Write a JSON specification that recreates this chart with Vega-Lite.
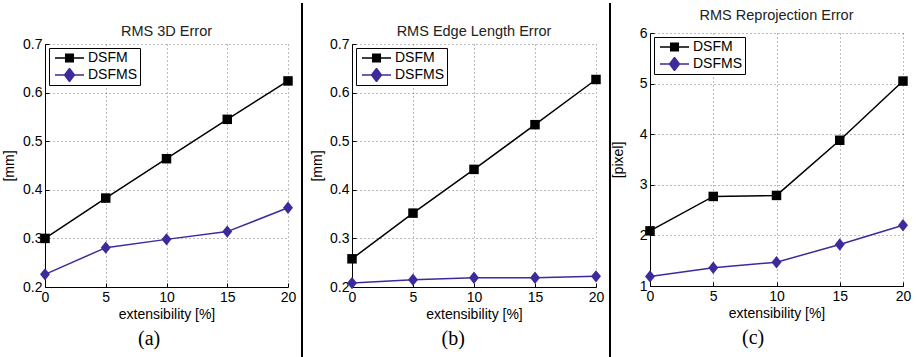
{
  "$schema": "https://vega.github.io/schema/vega-lite/v6.json",
  "padding": {"left": 2, "top": 2, "right": 0, "bottom": 0},
  "background": "white",
  "spacing": 0,
  "hconcat": [
    {
      "bounds": "flush",
      "spacing": 0,
      "title": {"text": "(a)", "orient": "bottom", "font": "Liberation Serif", "fontSize": 20, "fontWeight": "normal", "color": "#000", "offset": 7, "anchor": "middle", "frame": "bounds"},
      "vconcat": [
        {"width": 1, "height": 41, "data": {"values": []}, "mark": "point"},
        {
          "width": 243, "height": 243,
          "title": {"text": "RMS 3D Error", "font": "Liberation Sans", "fontSize": 14.5, "fontWeight": "normal", "color": "#222", "offset": -2, "anchor": "middle", "frame": "group"},
          "data": {"values": [
            {"x": 0, "y": 0.300, "series": "DSFM"}, {"x": 5, "y": 0.383, "series": "DSFM"}, {"x": 10, "y": 0.464, "series": "DSFM"}, {"x": 15, "y": 0.545, "series": "DSFM"}, {"x": 20, "y": 0.624, "series": "DSFM"},
            {"x": 0, "y": 0.226, "series": "DSFMS"}, {"x": 5, "y": 0.281, "series": "DSFMS"}, {"x": 10, "y": 0.298, "series": "DSFMS"}, {"x": 15, "y": 0.314, "series": "DSFMS"}, {"x": 20, "y": 0.363, "series": "DSFMS"}
          ]},
          "encoding": {
            "x": {"field": "x", "type": "quantitative", "scale": {"domain": [0, 20], "nice": false, "zero": false}, "axis": {"values": [0, 5, 10, 15, 20], "format": "d", "title": "extensibility [%]"}},
            "y": {"field": "y", "type": "quantitative", "scale": {"domain": [0.2, 0.7], "nice": false, "zero": false}, "axis": {"values": [0.2, 0.3, 0.4, 0.5, 0.6, 0.7], "format": ".1f", "title": "[mm]", "titlePadding": 6}}
          },
          "layer": [
            {"mark": {"type": "line", "strokeWidth": 1.5}, "encoding": {"color": {"field": "series", "type": "nominal", "scale": {"domain": ["DSFM", "DSFMS"], "range": ["#000000", "#3b2b9b"]}, "legend": null}}},
            {"mark": {"type": "point", "filled": true, "opacity": 1, "size": 90}, "encoding": {
              "color": {"field": "series", "type": "nominal", "scale": {"domain": ["DSFM", "DSFMS"], "range": ["#000000", "#3b2b9b"]}, "legend": null},
              "shape": {"field": "series", "type": "nominal", "scale": {"domain": ["DSFM", "DSFMS"], "range": ["square", "M0,-1.3L1.05,0L0,1.3L-1.05,0Z"]}, "legend": null}}},
            {"data": {"values": []}, "mark": {"type": "point", "filled": false, "opacity": 1, "strokeWidth": 1.5, "size": 841}, "encoding": {
              "color": {"field": "series", "type": "nominal", "scale": {"domain": ["DSFM", "DSFMS"], "range": ["#000000", "#3b2b9b"]},
                "legend": {"title": null, "orient": "top-left", "offset": 4, "padding": 3, "strokeColor": "#000", "fillColor": "#fff", "cornerRadius": 0, "symbolSize": 841, "symbolStrokeWidth": 1.5, "symbolOffset": 2, "clipHeight": 14, "labelFont": "Liberation Sans", "labelFontSize": 14, "labelColor": "#000", "labelOffset": 3, "rowPadding": 3}},
              "shape": {"field": "series", "type": "nominal", "scale": {"domain": ["DSFM", "DSFMS"], "range": ["M-1,0H1M-0.26,-0.26H0.26V0.26H-0.26ZM-0.26,-0.17H0.26M-0.26,-0.09H0.26M-0.26,0.09H0.26M-0.26,0.17H0.26", "M-1,0H1M0,-0.45L0.34,0L0,0.45L-0.34,0ZM-0.28,-0.08H0.28M-0.28,0.08H0.28M-0.22,-0.16H0.22M-0.22,0.16H0.22M-0.16,-0.24H0.16M-0.16,0.24H0.16M-0.1,-0.32H0.1M-0.1,0.32H0.1M-0.04,-0.4H0.04M-0.04,0.4H0.04"]},
                "legend": {"title": null, "orient": "top-left", "offset": 4, "padding": 3, "strokeColor": "#000", "fillColor": "#fff", "cornerRadius": 0, "symbolSize": 841, "symbolStrokeWidth": 1.5, "symbolOffset": 2, "clipHeight": 14, "labelFont": "Liberation Sans", "labelFontSize": 14, "labelColor": "#000", "labelOffset": 3, "rowPadding": 3}}}}
          ],
          "resolve": {"scale": {"shape": "independent", "color": "independent"}}
        }
      ]
    },
    {
      "width": 14, "height": 355, "data": {"values": [{}]},
      "mark": {"type": "rule", "strokeWidth": 2, "color": "#000"},
      "encoding": {"x": {"datum": 6, "type": "quantitative", "scale": {"domain": [0, 14], "nice": false, "zero": false}, "axis": null}}
    },
    {
      "bounds": "flush",
      "spacing": 0,
      "title": {"text": "(b)", "orient": "bottom", "font": "Liberation Serif", "fontSize": 20, "fontWeight": "normal", "color": "#000", "offset": 7, "anchor": "middle", "frame": "bounds", "dx": -4},
      "vconcat": [
        {"width": 1, "height": 41, "data": {"values": []}, "mark": "point"},
        {
          "width": 244, "height": 243,
          "title": {"text": "RMS Edge Length Error", "font": "Liberation Sans", "fontSize": 14.5, "fontWeight": "normal", "color": "#222", "offset": -2, "anchor": "middle", "frame": "group"},
          "data": {"values": [
            {"x": 0, "y": 0.258, "series": "DSFM"}, {"x": 5, "y": 0.352, "series": "DSFM"}, {"x": 10, "y": 0.442, "series": "DSFM"}, {"x": 15, "y": 0.534, "series": "DSFM"}, {"x": 20, "y": 0.627, "series": "DSFM"},
            {"x": 0, "y": 0.208, "series": "DSFMS"}, {"x": 5, "y": 0.215, "series": "DSFMS"}, {"x": 10, "y": 0.219, "series": "DSFMS"}, {"x": 15, "y": 0.219, "series": "DSFMS"}, {"x": 20, "y": 0.222, "series": "DSFMS"}
          ]},
          "encoding": {
            "x": {"field": "x", "type": "quantitative", "scale": {"domain": [0, 20], "nice": false, "zero": false}, "axis": {"values": [0, 5, 10, 15, 20], "format": "d", "title": "extensibility [%]"}},
            "y": {"field": "y", "type": "quantitative", "scale": {"domain": [0.2, 0.7], "nice": false, "zero": false}, "axis": {"values": [0.2, 0.3, 0.4, 0.5, 0.6, 0.7], "format": ".1f", "title": "[mm]", "titlePadding": 5}}
          },
          "layer": [
            {"mark": {"type": "line", "strokeWidth": 1.5}, "encoding": {"color": {"field": "series", "type": "nominal", "scale": {"domain": ["DSFM", "DSFMS"], "range": ["#000000", "#3b2b9b"]}, "legend": null}}},
            {"mark": {"type": "point", "filled": true, "opacity": 1, "size": 90}, "encoding": {
              "color": {"field": "series", "type": "nominal", "scale": {"domain": ["DSFM", "DSFMS"], "range": ["#000000", "#3b2b9b"]}, "legend": null},
              "shape": {"field": "series", "type": "nominal", "scale": {"domain": ["DSFM", "DSFMS"], "range": ["square", "M0,-1.3L1.05,0L0,1.3L-1.05,0Z"]}, "legend": null}}},
            {"data": {"values": []}, "mark": {"type": "point", "filled": false, "opacity": 1, "strokeWidth": 1.5, "size": 841}, "encoding": {
              "color": {"field": "series", "type": "nominal", "scale": {"domain": ["DSFM", "DSFMS"], "range": ["#000000", "#3b2b9b"]},
                "legend": {"title": null, "orient": "top-left", "offset": 4, "padding": 3, "strokeColor": "#000", "fillColor": "#fff", "cornerRadius": 0, "symbolSize": 841, "symbolStrokeWidth": 1.5, "symbolOffset": 2, "clipHeight": 14, "labelFont": "Liberation Sans", "labelFontSize": 14, "labelColor": "#000", "labelOffset": 3, "rowPadding": 3}},
              "shape": {"field": "series", "type": "nominal", "scale": {"domain": ["DSFM", "DSFMS"], "range": ["M-1,0H1M-0.26,-0.26H0.26V0.26H-0.26ZM-0.26,-0.17H0.26M-0.26,-0.09H0.26M-0.26,0.09H0.26M-0.26,0.17H0.26", "M-1,0H1M0,-0.45L0.34,0L0,0.45L-0.34,0ZM-0.28,-0.08H0.28M-0.28,0.08H0.28M-0.22,-0.16H0.22M-0.22,0.16H0.22M-0.16,-0.24H0.16M-0.16,0.24H0.16M-0.1,-0.32H0.1M-0.1,0.32H0.1M-0.04,-0.4H0.04M-0.04,0.4H0.04"]},
                "legend": {"title": null, "orient": "top-left", "offset": 4, "padding": 3, "strokeColor": "#000", "fillColor": "#fff", "cornerRadius": 0, "symbolSize": 841, "symbolStrokeWidth": 1.5, "symbolOffset": 2, "clipHeight": 14, "labelFont": "Liberation Sans", "labelFontSize": 14, "labelColor": "#000", "labelOffset": 3, "rowPadding": 3}}}}
          ],
          "resolve": {"scale": {"shape": "independent", "color": "independent"}}
        }
      ]
    },
    {
      "width": 7, "height": 355, "data": {"values": [{}]},
      "mark": {"type": "rule", "strokeWidth": 2, "color": "#000"},
      "encoding": {"x": {"datum": 6, "type": "quantitative", "scale": {"domain": [0, 7], "nice": false, "zero": false}, "axis": null}}
    },
    {
      "bounds": "flush",
      "spacing": 0,
      "title": {"text": "(c)", "orient": "bottom", "font": "Liberation Serif", "fontSize": 20, "fontWeight": "normal", "color": "#000", "offset": 7, "anchor": "middle", "frame": "bounds", "dx": -8},
      "vconcat": [
        {"width": 1, "height": 30, "data": {"values": []}, "mark": "point"},
        {
          "width": 253, "height": 253,
          "title": {"text": "RMS Reprojection Error", "font": "Liberation Sans", "fontSize": 14.5, "fontWeight": "normal", "color": "#222", "offset": 3, "anchor": "middle", "frame": "group"},
          "data": {"values": [
            {"x": 0, "y": 2.09, "series": "DSFM"}, {"x": 5, "y": 2.77, "series": "DSFM"}, {"x": 10, "y": 2.79, "series": "DSFM"}, {"x": 15, "y": 3.88, "series": "DSFM"}, {"x": 20, "y": 5.05, "series": "DSFM"},
            {"x": 0, "y": 1.19, "series": "DSFMS"}, {"x": 5, "y": 1.36, "series": "DSFMS"}, {"x": 10, "y": 1.47, "series": "DSFMS"}, {"x": 15, "y": 1.82, "series": "DSFMS"}, {"x": 20, "y": 2.20, "series": "DSFMS"}
          ]},
          "encoding": {
            "x": {"field": "x", "type": "quantitative", "scale": {"domain": [0, 20], "nice": false, "zero": false}, "axis": {"values": [0, 5, 10, 15, 20], "format": "d", "title": "extensibility [%]"}},
            "y": {"field": "y", "type": "quantitative", "scale": {"domain": [1, 6], "nice": false, "zero": false}, "axis": {"values": [1, 2, 3, 4, 5, 6], "format": "d", "title": "[pixel]", "titlePadding": 13.7}}
          },
          "layer": [
            {"mark": {"type": "line", "strokeWidth": 1.5}, "encoding": {"color": {"field": "series", "type": "nominal", "scale": {"domain": ["DSFM", "DSFMS"], "range": ["#000000", "#3b2b9b"]}, "legend": null}}},
            {"mark": {"type": "point", "filled": true, "opacity": 1, "size": 90}, "encoding": {
              "color": {"field": "series", "type": "nominal", "scale": {"domain": ["DSFM", "DSFMS"], "range": ["#000000", "#3b2b9b"]}, "legend": null},
              "shape": {"field": "series", "type": "nominal", "scale": {"domain": ["DSFM", "DSFMS"], "range": ["square", "M0,-1.3L1.05,0L0,1.3L-1.05,0Z"]}, "legend": null}}},
            {"data": {"values": []}, "mark": {"type": "point", "filled": false, "opacity": 1, "strokeWidth": 1.5, "size": 841}, "encoding": {
              "color": {"field": "series", "type": "nominal", "scale": {"domain": ["DSFM", "DSFMS"], "range": ["#000000", "#3b2b9b"]},
                "legend": {"title": null, "orient": "top-left", "offset": 4, "padding": 3, "strokeColor": "#000", "fillColor": "#fff", "cornerRadius": 0, "symbolSize": 841, "symbolStrokeWidth": 1.5, "symbolOffset": 2, "clipHeight": 14, "labelFont": "Liberation Sans", "labelFontSize": 14, "labelColor": "#000", "labelOffset": 3, "rowPadding": 3}},
              "shape": {"field": "series", "type": "nominal", "scale": {"domain": ["DSFM", "DSFMS"], "range": ["M-1,0H1M-0.26,-0.26H0.26V0.26H-0.26ZM-0.26,-0.17H0.26M-0.26,-0.09H0.26M-0.26,0.09H0.26M-0.26,0.17H0.26", "M-1,0H1M0,-0.45L0.34,0L0,0.45L-0.34,0ZM-0.28,-0.08H0.28M-0.28,0.08H0.28M-0.22,-0.16H0.22M-0.22,0.16H0.22M-0.16,-0.24H0.16M-0.16,0.24H0.16M-0.1,-0.32H0.1M-0.1,0.32H0.1M-0.04,-0.4H0.04M-0.04,0.4H0.04"]},
                "legend": {"title": null, "orient": "top-left", "offset": 4, "padding": 3, "strokeColor": "#000", "fillColor": "#fff", "cornerRadius": 0, "symbolSize": 841, "symbolStrokeWidth": 1.5, "symbolOffset": 2, "clipHeight": 14, "labelFont": "Liberation Sans", "labelFontSize": 14, "labelColor": "#000", "labelOffset": 3, "rowPadding": 3}}}}
          ],
          "resolve": {"scale": {"shape": "independent", "color": "independent"}}
        }
      ]
    }
  ],
  "config": {
    "view": {"stroke": null},
    "font": "Liberation Sans",
    "axis": {
      "domainColor": "#000", "domainWidth": 1, "tickColor": "#000", "tickSize": -4, "tickWidth": 1,
      "labelFont": "Liberation Sans", "labelFontSize": 14, "labelColor": "#000",
      "titleFont": "Liberation Sans", "titleFontSize": 14, "titleFontWeight": "normal", "titleColor": "#000",
      "grid": true, "gridColor": "#777", "gridDash": [1, 3], "gridWidth": 1, "gridOpacity": 1,
      "labelFlush": false, "labelOverlap": false
    },
    "axisX": {"labelPadding": 7.5, "titlePadding": 3},
    "axisY": {"labelPadding": 7},
    "legend": {"strokeColor": "#000", "strokeWidth": 1, "fillColor": "#fff", "cornerRadius": 0, "padding": 3}
  }
}
